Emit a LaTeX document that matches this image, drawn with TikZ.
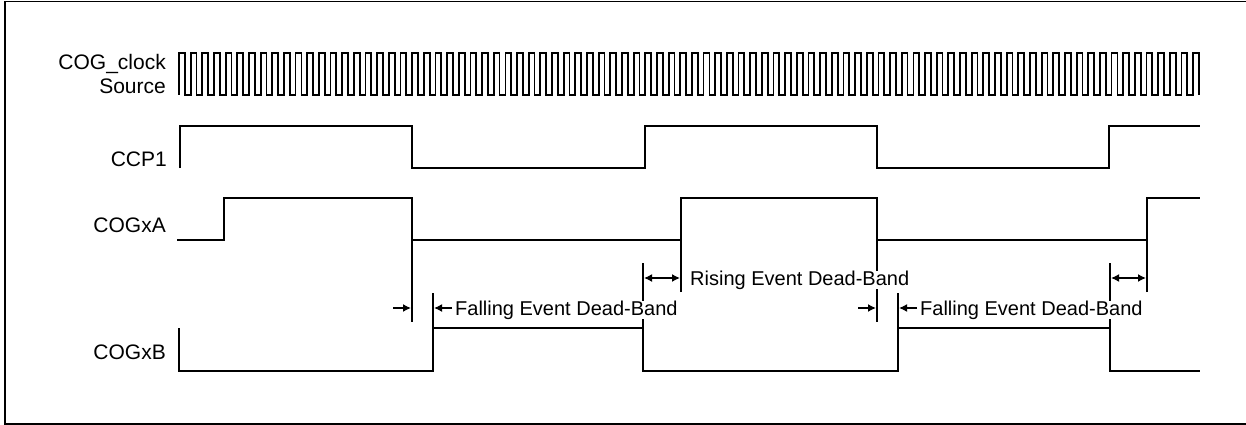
\documentclass[tikz,border=0pt]{standalone}
\usepackage{fontspec}
\setmainfont{Liberation Sans}
\usetikzlibrary{arrows.meta}
\begin{document}
\begin{tikzpicture}[x=1pt,y=-1pt,
  sig/.style={line width=1.8pt,line join=miter},
  tick/.style={line width=1.8pt},
  frame/.style={line width=1.6pt},
  dim/.style={line width=1.5pt,-{Latex[length=8pt,width=8pt]}},
  dimboth/.style={line width=1.5pt,{Latex[length=8pt,width=8pt]}-{Latex[length=8pt,width=8pt]}},
  lbl/.style={font=\fontsize{21}{24}\selectfont,inner sep=0pt,anchor=base east,align=right},
  dlbl/.style={font=\fontsize{20}{24}\selectfont,inner sep=0pt,anchor=base west,fill=white}]
\useasboundingbox (0,0) rectangle (1246,425);
% frame
\draw[frame] (1247,1.5) -- (5,1.5) -- (5,423.8) -- (1247,423.8);

% signal labels
\node[lbl] (lclk) at (166,70) {COG\_clock};
\node[lbl] (lsrc) at (166,94) {Source};
\node[lbl] (lccp) at (167,166) {CCP1};
\node[lbl] (lcoga) at (166,232) {COGxA};
\node[lbl] (lcogb) at (166,359) {COGxB};

% clock
\draw[sig] (179,95) \foreach \i in {1,...,87}{ -- ++(0,-42) -- ++(5.8286,0) -- ++(0,42) -- ++(5.8286,0)} -- ++(0,-42) -- ++(5.8286,0) -- ++(0,42);

% CCP1
\draw[sig] (180,168) -- (180,126) -- (412,126) -- (412,168) -- (645,168) -- (645,126)
  -- (877,126) -- (877,168) -- (1109,168) -- (1109,126) -- (1200,126);

% COGxA
\coordinate (af1) at (412,322);
\coordinate (ar1) at (681,292);
\coordinate (af2) at (877,322);
\coordinate (ar2) at (1147,292);
\draw[sig] (177,240) -- (224,240) -- (224,198) -- (412,198) -- (af1);
\draw[sig] (412,240) -- (681,240);
\draw[sig] (ar1) -- (681,198) -- (877,198) -- (af2);
\draw[sig] (877,240) -- (1147,240);
\draw[sig] (ar2) -- (1147,198) -- (1200,198);

% COGxB
\coordinate (br1) at (433,293);
\coordinate (bf1) at (643,263);
\coordinate (br2) at (898,293);
\coordinate (bf2) at (1110,263);
\draw[sig] (179,328) -- (179,371) -- (433,371) -- (433,328) -- (643,328) -- (643,371)
  -- (898,371) -- (898,328) -- (1110,328) -- (1110,371) -- (1200,371);
\draw[tick] (433,328) -- (br1);
\draw[tick] (643,328) -- (bf1);
\draw[tick] (898,328) -- (br2);
\draw[tick] (1110,328) -- (bf2);

% dead-band arrows
\coordinate (d1a) at (393,308);
\coordinate (d1b) at (411,308);
\coordinate (d1c) at (452,308);
\coordinate (d1d) at (434,308);
\draw[dim] (d1a) -- (d1b);
\draw[dim] (d1c) -- (d1d);
\coordinate (r1a) at (644,278);
\coordinate (r1b) at (680,278);
\draw[dimboth] (r1a) -- (r1b);
\coordinate (d2a) at (858,308);
\coordinate (d2b) at (876,308);
\coordinate (d2c) at (917,308);
\coordinate (d2d) at (899,308);
\draw[dim] (d2a) -- (d2b);
\draw[dim] (d2c) -- (d2d);
\coordinate (r2a) at (1111,278);
\coordinate (r2b) at (1146,278);
\draw[dimboth] (r2a) -- (r2b);

% dead-band labels
\node[dlbl] (fdb1) at (455,315) {Falling Event Dead-Band};
\node[dlbl] (rdb) at (690,285) {Rising Event Dead-Band};
\node[dlbl] (fdb2) at (920,315) {Falling Event Dead-Band};
\end{tikzpicture}
\end{document}
